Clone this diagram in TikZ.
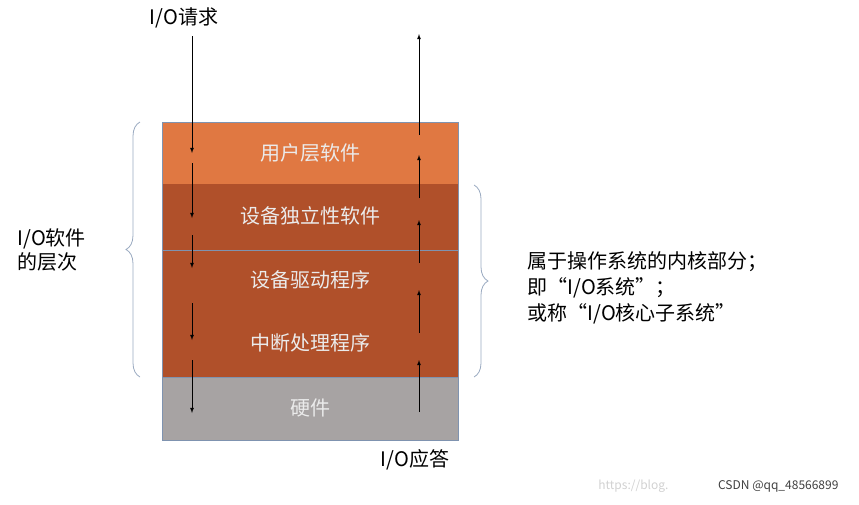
\documentclass[tikz,border=0pt]{standalone}
\usepackage{fontspec}
\setmainfont{Noto Sans CJK SC}
\usetikzlibrary{decorations.pathreplacing}
\definecolor{top}{HTML}{E07842}
\definecolor{mid}{HTML}{B0502A}
\definecolor{hw}{HTML}{A7A3A3}
\definecolor{edge}{HTML}{7F93B0}
\begin{document}
\begin{tikzpicture}[x=1pt,y=-1pt,
  ltxt/.style={text=white!92!black,font=\fontsize{20}{24}\selectfont},
  arr/.style={-latex,line width=0.8pt},
  brc/.style={draw=edge!80,line width=0.8pt,decorate,decoration={brace,amplitude=14pt}},
  lbl/.style={font=\fontsize{20}{24}\selectfont,align=left}]
\useasboundingbox (0,0) rectangle (859,504);
\fill[top] (162,122) rectangle (458,184);
\fill[mid] (162,184) rectangle (458,377);
\fill[hw] (162,377) rectangle (458,440);
\draw[edge,line width=0.8pt] (162,122) rectangle (458,440);
\draw[edge,line width=0.8pt] (162,250) -- (458,250);
\draw[edge,line width=0.8pt] (162,377) -- (458,377);
\node[ltxt] (l1) at (310,153) {用户层软件};
\node[ltxt] (l2) at (310,216) {设备独立性软件};
\node[ltxt] (l3) at (310,280) {设备驱动程序};
\node[ltxt] (l4) at (310,343) {中断处理程序};
\node[ltxt] (l5) at (310,408) {硬件};
\node[lbl] (req) at (184,18) {I/O请求};
\node[lbl] (ans) at (415,460) {I/O应答};
\draw[arr] (192,36) -- (192,153);
\draw[arr] (192,163) -- (192,218);
\draw[arr] (192,235) -- (192,268);
\draw[arr] (192,303) -- (192,340);
\draw[arr] (192,360) -- (192,413);
\draw[arr] (419,412) -- (419,360);
\draw[arr] (419,333) -- (419,290);
\draw[arr] (419,263) -- (419,220);
\draw[arr] (419,198) -- (419,155);
\draw[arr] (419,135) -- (419,34);
\draw[brc] (140,377) -- (140,122);
\draw[brc] (474,185) -- (474,377);
\node[lbl,anchor=west] (left) at (14,250) {I/O软件\\[0pt]的层次};
\node[lbl,anchor=west] (right) at (524,288) {属于操作系统的内核部分；\\[2pt]即“I/O系统”；\\[2pt]或称“I/O核心子系统”};
\node[anchor=east,font=\fontsize{12}{14}\selectfont,text=black!18] (wm1) at (672,486) {https://blog.};
\node[anchor=east,font=\fontsize{12}{14}\selectfont,text=black!75] (wm2) at (842,486) {CSDN @qq\_48566899};
\end{tikzpicture}
\end{document}
